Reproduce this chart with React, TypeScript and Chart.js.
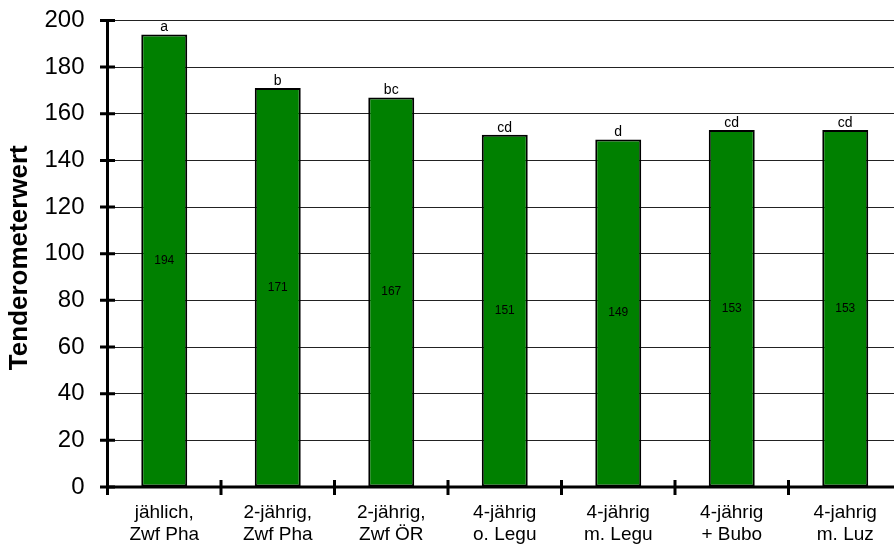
import React, { useEffect, useRef } from "react";
import { Chart, registerables } from "chart.js";

Chart.register(...registerables);

const categories: string[][] = [
  ["jählich,", "Zwf Pha"],
  ["2-jährig,", "Zwf Pha"],
  ["2-jährig,", "Zwf ÖR"],
  ["4-jährig", "o. Legu"],
  ["4-jährig", "m. Legu"],
  ["4-jährig", "+ Bubo"],
  ["4-jahrig", "m. Luz"],
];
const values: number[] = [194, 171, 167, 151, 149, 153, 153];
const valueLabels: string[] = ["194", "171", "167", "151", "149", "153", "153"];
const letters: string[] = ["a", "b", "bc", "cd", "d", "cd", "cd"];
const yTicks: number[] = [0, 20, 40, 60, 80, 100, 120, 140, 160, 180, 200];
const yTitle = "Tenderometerwert";

const FONT = "'Liberation Sans', Arial, Helvetica, sans-serif";
const SHIFT = 17;

export default function App() {
  const ref = useRef<HTMLCanvasElement | null>(null);

  useEffect(() => {
    if (!ref.current) return;

    const overlay = {
      id: "overlay",
      afterDatasetsDraw(chart: any) {
        const ctx = chart.ctx;
        const area = chart.chartArea;
        const xs = chart.scales.x;
        const ys = chart.scales.y;
        const meta = chart.getDatasetMeta(0);
        ctx.save();
        ctx.fillStyle = "#000";
        ctx.textAlign = "center";
        meta.data.forEach((bar: any, i: number) => {
          ctx.font = `12px ${FONT}`;
          ctx.textBaseline = "middle";
          ctx.fillText(valueLabels[i], bar.x, (bar.y + bar.base) / 2);
          ctx.font = `14px ${FONT}`;
          ctx.textBaseline = "alphabetic";
          ctx.fillText(letters[i], bar.x, bar.y - 3);
        });
        ctx.strokeStyle = "#000";
        ctx.lineWidth = 3;
        const x0 = area.left;
        const y0 = ys.getPixelForValue(0);
        ctx.beginPath();
        ctx.moveTo(x0, ys.getPixelForValue(200) - 1);
        ctx.lineTo(x0, y0 + 1.5);
        ctx.moveTo(x0 - 1.5, y0);
        ctx.lineTo(area.right, y0);
        ctx.stroke();
        ctx.beginPath();
        yTicks.forEach((v) => {
          const py = ys.getPixelForValue(v);
          ctx.moveTo(x0 - 7.5, py);
          ctx.lineTo(x0 + 7.5, py);
        });
        const step = xs.getPixelForValue(1) - xs.getPixelForValue(0);
        for (let i = 0; i <= categories.length; i++) {
          const px = xs.getPixelForValue(0) - step / 2 + i * step;
          ctx.moveTo(px, y0 - 7);
          ctx.lineTo(px, y0 + 8);
        }
        ctx.stroke();
        ctx.font = `bold 26px ${FONT}`;
        ctx.textAlign = "center";
        ctx.textBaseline = "alphabetic";
        ctx.translate(26.5, (area.top + area.bottom) / 2 + 4);
        ctx.rotate(-Math.PI / 2);
        ctx.fillText(yTitle, 0, 0);
        ctx.restore();
      },
    };

    const chart = new Chart(ref.current, {
      type: "bar",
      data: {
        labels: categories,
        datasets: [
          {
            data: values,
            backgroundColor: "#008000",
            borderColor: "#000",
            borderWidth: 2,
            borderSkipped: false,
            categoryPercentage: 1,
            barPercentage: 0.405,
          },
        ],
      },
      options: {
        animation: false,
        responsive: false,
        maintainAspectRatio: false,
        devicePixelRatio: 1,
        layout: { padding: { top: 3, right: 0, bottom: 0, left: 0 } },
        plugins: {
          legend: { display: false },
          tooltip: { enabled: false },
          title: { display: false },
        },
        scales: {
          x: {
            grid: { display: false, drawTicks: false },
            border: { display: false },
            ticks: {
              color: "#000",
              font: { family: FONT, size: 19 },
              padding: 14,
              maxRotation: 0,
              autoSkip: false,
            },
            afterFit(scale: any) {
              scale.height = 59;
            },
          },
          y: {
            min: 0,
            max: 200,
            grid: { color: "#222", lineWidth: 1, drawTicks: false },
            border: { display: false },
            ticks: {
              stepSize: 20,
              color: "#000",
              font: { family: FONT, size: 24 },
              padding: 23,
            },
            afterFit(scale: any) {
              scale.width = 107.5;
            },
          },
        },
      },
      plugins: [overlay],
    });
    return () => chart.destroy();
  }, []);

  return (
    <div style={{ position: "fixed", left: 0, top: 0, width: 894, height: 546, overflow: "hidden", background: "#fff" }}>
      <canvas
        ref={ref}
        width={902}
        height={546 + SHIFT}
        style={{ display: "block", position: "absolute", left: 0, top: -SHIFT, width: 902, height: 546 + SHIFT }}
      />
    </div>
  );
}
